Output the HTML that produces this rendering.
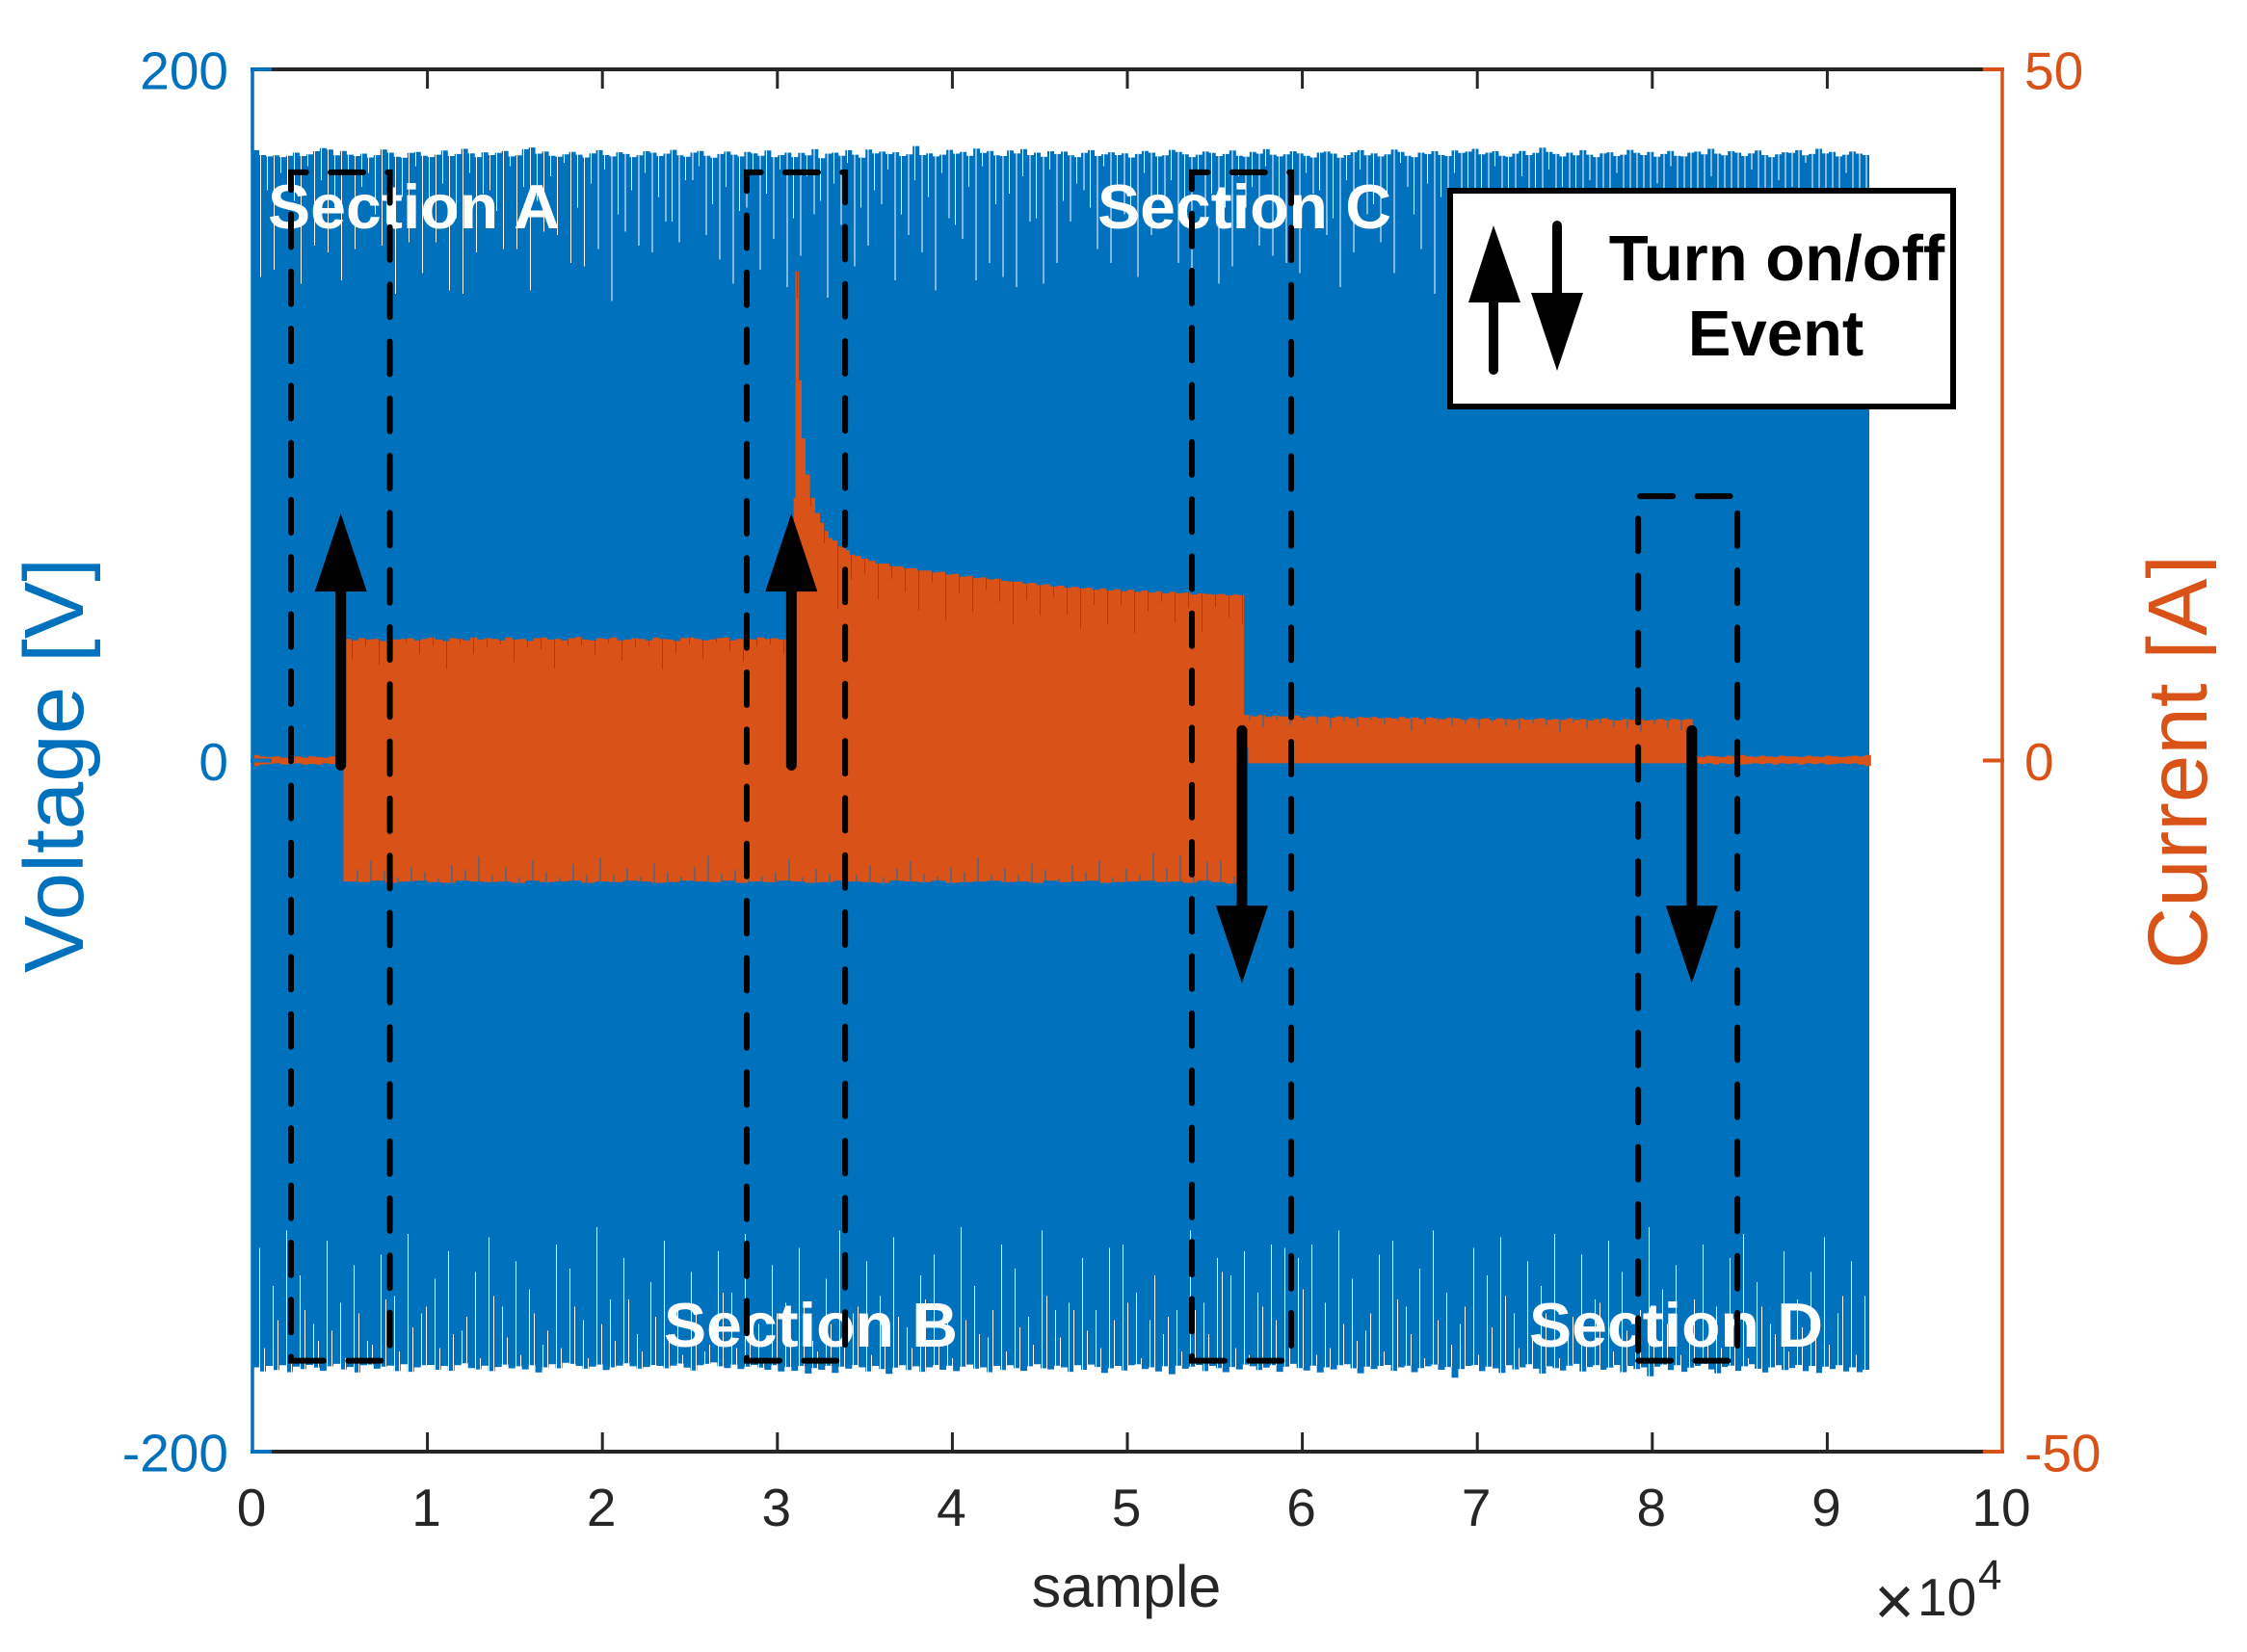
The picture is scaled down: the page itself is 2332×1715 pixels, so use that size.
<!DOCTYPE html>
<html lang="en">
<head>
<meta charset="utf-8">
<title>Voltage and current over samples</title>
<style>
html,body{margin:0;padding:0;background:#fff;}
svg{display:block;font-family:"Liberation Sans",Arial,sans-serif;}
</style>
</head>
<body>
<svg id="chart" width="2332" height="1715" viewBox="0 0 2332 1715">
  <rect x="0" y="0" width="2332" height="1715" fill="#ffffff"/>
  <g id="data-layer"></g>
  <g id="axes-layer"></g>
  <g id="section-labels" font-weight="bold" font-size="65" fill="#ffffff">
    <text x="278" y="237" textLength="303" lengthAdjust="spacingAndGlyphs">Section A</text>
    <text x="1139" y="237" textLength="305" lengthAdjust="spacingAndGlyphs">Section C</text>
    <text x="689" y="1398" textLength="305" lengthAdjust="spacingAndGlyphs">Section B</text>
    <text x="1587" y="1398" textLength="305" lengthAdjust="spacingAndGlyphs">Section D</text>
  </g>
  <g id="overlay-layer"></g>
  <g id="legend-box">
    <rect x="1505" y="198" width="522" height="224" fill="#ffffff" stroke="#000000" stroke-width="6"/>
    <line x1="1550" y1="300" x2="1550" y2="384" stroke="#000" stroke-width="10" stroke-linecap="round"/>
    <polygon points="1550,234 1578,314 1524,314" fill="#000"/>
    <line x1="1616" y1="234" x2="1616" y2="320" stroke="#000" stroke-width="10" stroke-linecap="round"/>
    <polygon points="1616,385 1589,304 1643,304" fill="#000"/>
    <text x="1844" y="291" text-anchor="middle" font-size="67" font-weight="bold" fill="#000">Turn on/off</text>
    <text x="1843" y="369" text-anchor="middle" font-size="67" font-weight="bold" fill="#000">Event</text>
  </g>
  <text transform="translate(86,1010) rotate(-90)" font-size="87" fill="#0072BD" textLength="431" lengthAdjust="spacingAndGlyphs">Voltage [V]</text>
  <text transform="translate(2290,1006) rotate(-90)" font-size="87" fill="#D95319" textLength="430" lengthAdjust="spacingAndGlyphs">Current [A]</text>
  <rect x="2300" y="0" width="32" height="1715" fill="#ffffff"/>
  <text x="1169" y="1668" text-anchor="middle" font-size="61" fill="#262626">sample</text>
  <g id="x-exponent" fill="#262626">
    <text x="1945" y="1687" font-size="72">×</text>
    <text x="1990" y="1677" font-size="55">10</text>
    <text x="2053" y="1650" font-size="44">4</text>
  </g>
</svg>
<script>
/* ---------- axis ranges and tick labels ---------- */
const xTickValues = [0,1,2,3,4,5,6,7,8,9,10];
const xTickMultiplier = 10000;
const voltageTickValues = [-200,0,200];
const currentTickValues = [-50,0,50];

/* ---------- voltage trace: envelope read per 385 samples (volts) ---------- */
const voltageSampleStep = 385;
const voltageUpper = [
176.6,175.2,174.8,175.1,174.6,175.0,175.9,174.9,175.4,176.3,177.2,176.8,175.1,176.4,175.3,174.9,175.6,174.5,175.2,176.8,
175.9,174.7,174.4,175.8,176.1,175.0,174.6,175.3,176.5,174.9,175.5,177.0,175.7,174.6,176.0,175.2,175.8,176.4,174.8,175.1,
176.9,177.4,175.6,176.2,175.0,174.7,175.4,176.1,175.3,174.5,175.7,176.6,175.2,174.8,176.0,175.5,174.6,175.1,176.3,175.9,
174.9,175.6,176.7,175.1,174.7,175.9,176.4,175.0,174.4,175.5,176.2,175.3,174.8,176.1,175.7,175.0,176.5,174.6,175.2,175.9,
174.6,175.8,175.1,176.9,174.3,175.6,175.9,175.0,176.6,175.3,174.4,176.8,175.7,176.2,175.5,176.0,174.9,175.4,177.8,175.2,
175.7,174.8,175.3,176.7,175.6,176.1,175.0,177.1,175.8,176.4,175.1,174.9,176.5,175.7,176.9,175.2,175.9,174.7,176.3,175.5,
176.2,175.1,174.6,175.8,176.6,174.9,175.4,176.0,175.2,175.7,174.5,175.5,176.4,175.9,174.8,175.1,176.7,176.1,175.4,174.6,
175.3,176.2,175.8,174.9,175.5,176.5,175.0,174.7,176.1,175.6,176.9,175.3,174.8,175.4,176.3,175.7,175.0,174.5,175.9,176.2,
175.6,174.4,175.2,176.0,176.6,175.1,175.7,174.8,175.4,176.8,176.1,175.0,174.6,175.9,175.5,176.3,175.2,174.9,176.5,175.8,
176.2,177.0,175.4,175.9,176.3,175.0,174.7,175.6,176.4,175.2,175.8,177.3,176.1,175.5,174.8,175.9,175.1,176.6,175.3,174.6,
175.7,176.0,174.9,175.3,176.7,175.8,175.2,176.1,174.7,175.5,176.4,175.0,174.8,175.9,176.2,175.4,177.0,175.6,175.1,176.3,
175.9,174.9,175.7,176.5,175.2,174.6,175.4,176.0,175.8,176.6,175.1,175.5,177.0,175.7,176.1,174.8,175.3,176.2,175.6,175.2
];
const voltageLower = [
-175.6,-176.8,-175.2,-176.4,-175.0,-177.0,-175.4,-176.1,-174.9,-175.7,-176.6,-175.3,-174.6,-176.2,-175.5,-177.1,-175.0,-174.8,-176.0,-175.4,
-175.1,-176.7,-174.7,-176.9,-175.6,-175.0,-174.9,-176.3,-175.2,-176.6,-175.0,-174.4,-175.8,-176.2,-175.1,-176.7,-175.5,-174.8,-175.9,-175.3,
-176.2,-175.0,-177.1,-175.6,-174.7,-175.9,-174.3,-174.6,-175.2,-176.0,-175.4,-174.8,-176.4,-175.6,-175.1,-174.4,-175.3,-176.0,-175.5,-174.9,
-175.2,-175.9,-175.1,-174.5,-175.7,-176.5,-175.0,-174.6,-174.2,-175.3,-175.8,-174.8,-176.1,-175.4,-174.9,-175.7,-176.3,-175.0,-176.8,-175.5,
-176.6,-175.2,-177.4,-175.8,-176.3,-175.1,-177.2,-175.4,-176.0,-174.9,-175.6,-176.8,-175.2,-176.1,-177.5,-175.7,-175.0,-176.4,-175.3,-176.9,
-175.6,-174.9,-176.3,-175.1,-176.7,-175.4,-174.8,-176.0,-175.6,-177.0,-175.2,-176.4,-175.0,-175.8,-176.6,-175.3,-174.7,-175.9,-176.2,-175.1,
-175.6,-176.9,-175.0,-176.3,-174.8,-175.5,-177.2,-175.9,-175.2,-176.5,-175.0,-174.7,-176.1,-175.6,-176.8,-175.3,-177.6,-175.1,-176.0,-175.4,
-174.9,-176.7,-175.2,-175.8,-177.0,-175.5,-176.2,-174.8,-175.3,-176.4,-175.7,-175.0,-176.9,-175.4,-174.6,-175.8,-176.5,-175.1,-177.1,-175.6,
-176.2,-175.0,-174.7,-175.9,-177.3,-175.4,-176.1,-175.2,-174.9,-176.6,-175.6,-175.1,-177.0,-175.8,-175.3,-174.8,-176.3,-175.5,-178.6,-176.1,
-175.2,-174.9,-176.7,-175.4,-175.9,-177.2,-175.0,-176.2,-175.6,-174.7,-176.0,-177.4,-175.3,-175.8,-176.5,-175.1,-174.6,-176.8,-175.5,-175.0,
-176.3,-175.7,-174.9,-177.0,-175.2,-176.1,-175.6,-178.2,-175.4,-174.8,-176.4,-175.0,-176.9,-175.7,-175.2,-174.6,-176.2,-177.3,-175.5,-175.1,
-176.6,-175.3,-174.7,-176.0,-177.1,-175.6,-175.0,-176.4,-175.8,-174.9,-176.7,-175.2,-177.2,-175.4,-176.1,-175.0,-176.8,-175.6,-177.0,-176.3
];
/* narrow gaps on the voltage trace, one per half-mains beat (volts reached by the gap) */
const voltageGapStep = 771;
const voltageTopGapsA = [
140,142,166,138,149,147,139,148,170,149,135,150,141,150,136,135,147,165,148,148,
136,153,152,144,143,148,133,153,149,147,156,150,168,152,145,138,160,142,151,137,
146,158,134,155,143,149,161,139,152,147,136,157,151,139,144,140,137,156,138,144,
156,165,148,144,158,140,152,163,144,135,155,138,143,160,149,146,144,141,164,152,
137,147,158,150,141,166,148,135,153,144,160,139,150,147,142,156,136,152,165,143,
148,138,154,146,161,140,151,144,136,158,149,142,163,147,139,155,145,150,141,153
];
const voltageTopGapsB = [
165,170,162,172,168,160,171,166,158,169,163,172,161,167,157,170,164,159,172,166,
162,169,173,160,167,171,158,165,170,163,156,168,172,161,166,159,170,164,171,157,
169,162,167,173,160,165,171,158,168,163,170,155,166,172,161,164,169,157,171,162,
167,160,172,165,158,170,163,168,156,171,164,160,169,166,172,159,162,170,165,157,
168,171,161,164,173,158,167,163,170,160,165,172,156,169,162,171,166,159,168,164,
170,161,157,167,172,163,160,169,165,158,171,162,168,166,173,159,164,170,161,167
];
const voltageBottomGapsA = [
-141,-152,-136,-149,-163,-139,-157,-146,-168,-143,-155,-137,-160,-150,-142,-165,-148,-138,-158,-145,
-153,-169,-140,-147,-162,-135,-156,-144,-166,-151,-139,-159,-148,-171,-142,-154,-137,-163,-146,-157,
-141,-168,-150,-136,-160,-145,-155,-138,-164,-149,-143,-158,-135,-152,-167,-140,-147,-161,-136,-159,
-157,-144,-159,-141,-140,-154,-162,-166,-159,-136,-157,-144,-149,-142,-154,-140,-141,-144,-140,-157,
-136,-150,-165,-143,-139,-158,-147,-136,-154,-163,-141,-149,-138,-160,-145,-152,-137,-167,-143,-156,
-139,-148,-161,-135,-153,-146,-165,-140,-158,-144,-137,-151,-163,-142,-156,-148,-138,-160,-145,-155
];
const voltageBottomGapsB = [
-170,-162,-172,-159,-168,-165,-173,-160,-169,-156,-171,-164,-158,-170,-166,-161,-173,-155,-167,-172,
-160,-165,-170,-158,-173,-163,-168,-156,-171,-161,-166,-172,-159,-169,-154,-170,-164,-173,-160,-167,
-157,-171,-163,-169,-158,-172,-165,-161,-170,-156,-168,-173,-162,-166,-159,-171,-164,-169,-155,-167,
-159,-165,-170,-162,-157,-173,-149,-161,-171,-159,-166,-148,-170,-172,-158,-162,-167,-153,-172,-170,
-163,-168,-160,-171,-156,-166,-173,-162,-169,-158,-172,-164,-155,-170,-167,-160,-173,-161,-168,-157,
-171,-165,-159,-169,-163,-172,-156,-167,-170,-161,-173,-158,-166,-171,-164,-160,-169,-155,-172,-165
];

/* ---------- current trace: read in stages (amps) ---------- */
const currentOffBefore = [0.4,0.3,0.25,0.3,0.2,0.25,0.3,0.2,0.3,0.25,0.2,0.3,0.25];
const currentOffBeforeLower = [-0.4,-0.3,-0.25,-0.2,-0.3,-0.25,-0.2,-0.3,-0.25,-0.3,-0.2,-0.25,-0.3];
const currentOffStep = 400;
const currentOnSampleStart = 5250;
const currentPlateauStep = 400;
const currentPlateauUpper = [
8.8,8.7,8.85,8.75,8.8,8.65,8.9,8.75,8.8,8.85,8.7,8.8,8.9,8.75,8.65,8.85,8.8,8.7,8.9,8.75,
8.85,8.8,8.7,8.9,8.75,8.8,8.65,8.85,8.9,8.75,8.8,8.7,8.85,8.95,8.75,8.7,8.85,8.8,8.9,8.7,
8.75,8.85,8.8,8.7,8.9,8.8,8.75,8.65,8.85,8.9,8.8,8.7,8.75,8.85,8.9,8.7,8.8,8.85,8.75,8.9,
8.8,8.85,8.75,8.8,8.85,8.7
];
const decaySamples = [30930,31030,31225,31390,31610,31860,32160,32435,32655,32930,33150,33430,33650,33920,34140,34420];
const decayAmps = [19.0,35.4,27.5,23.3,20.7,19.0,17.9,17.2,16.6,16.1,15.9,15.5,15.4,15.2,14.9,14.8];
const settlingSampleStart = 34800;
const settlingAmps = [
14.6,14.45,14.25,14.25,14.05,14.05,13.9,13.9,13.75,13.75,13.6,13.65,13.45,13.5,13.3,13.35,13.2,13.25,13.1,13.15,
13.0,12.95,12.95,12.8,12.85,12.7,12.75,12.6,12.65,12.5,12.55,12.45,12.5,12.35,12.45,12.3,12.4,12.25,12.35,12.2,
12.3,12.15,12.25,12.1,12.2,12.1,12.15,12.0,12.1,12.05,12.0,12.05,11.95,12.0,11.95
];
const currentLowSampleStart = 56670;
const currentLowUpper = [
3.3,3.2,3.3,3.15,3.25,3.2,3.15,3.25,3.1,3.2,3.15,3.2,3.1,3.2,3.15,3.05,3.15,3.1,3.15,3.05,
3.1,3.05,3.15,3.05,3.1,3.0,3.1,3.05,3.0,3.1,3.05,2.95,3.05,3.0,3.05,2.95,3.05,3.0,2.95,3.05,
2.95,3.0,3.05,2.95,3.0,2.95,3.05,2.95,3.0,2.9,3.0,3.05,2.95,2.9,3.0,2.95,3.0,2.9,2.95,3.0,
2.9,3.0,2.95,3.0,3.0
];
const currentLowLower = -0.2;
const currentOffAfterSampleStart = 82300;
const currentOffAfterSampleEnd = 92500;
const currentOffAfterUpper = [0.3,0.25,0.35,0.3,0.25,0.35,0.3,0.4,0.3,0.25,0.35,0.3,0.25,0.35,0.3,0.3,0.25,0.35,0.3,0.25,0.35,0.3,0.25,0.3,0.35,0.3,0.4];
const currentOffAfterLower = [-0.2,-0.25,-0.2,-0.3,-0.2,-0.25,-0.2,-0.3,-0.25,-0.2,-0.25,-0.2,-0.3,-0.2,-0.25,-0.2,-0.3,-0.2,-0.25,-0.2,-0.3,-0.25,-0.2,-0.25,-0.2,-0.3,-0.4];
const currentHighLowerStep = 800;
const currentHighLower = [
-8.75,-8.8,-8.7,-8.85,-8.75,-8.7,-8.8,-8.85,-8.7,-8.75,-8.8,-8.75,-8.85,-8.7,-8.8,-8.75,-8.7,-8.85,-8.75,-8.8,
-8.7,-8.75,-8.85,-8.8,-8.7,-8.75,-8.8,-8.7,-8.85,-8.75,-8.8,-8.7,-8.75,-8.85,-8.8,-8.7,-8.75,-8.8,-8.85,-8.7,
-8.75,-8.8,-8.7,-8.85,-8.8,-8.75,-8.7,-8.8,-8.75,-8.85,-8.7,-8.8,-8.75,-8.7,-8.85,-8.8,-8.75,-8.7,-8.8,-8.75,
-8.85,-8.7,-8.8,-8.9,-8.8
];
/* blue gaps eating into the current trace (amps of depth) */
const currentGapStep = 771;
const currentGapStart = 5700;
const currentTopGapDepth = [
1.4,0.5,1.9,0.8,0.3,1.0,0.6,2.0,0.4,1.2,0.7,0.3,1.6,0.5,0.9,2.1,0.4,0.6,1.1,0.3,
1.5,0.7,0.4,2.2,0.9,0.5,1.3,0.3,0.8,1.7,0.5,0.4,1.0,2.0,0.6,0.9,4.5,1.8,1.1,2.6,
0.9,1.7,2.9,0.7,3.3,1.4,2.6,0.9,1.7,3.1,1.2,2.2,0.8,1.9,2.9,1.1,2.4,1.0,3.0,1.5,
0.8,2.2,1.1,2.8,0.9,1.6,2.1
];
const currentBottomGapDepth = [
0.9,1.6,0.7,0.4,1.1,0.6,0.3,1.3,0.8,1.8,0.5,1.0,0.4,1.5,0.7,0.3,1.2,0.6,1.7,0.5,
0.9,0.4,1.4,0.7,0.3,1.1,1.9,0.5,0.8,1.3,0.4,0.7,1.6,0.3,1.0,0.6,1.8,0.5,1.2,0.4,
0.9,1.5,0.6,0.3,1.1,0.7,1.7,0.4,1.0,0.5,1.4,0.8,0.3,1.2,0.6,1.6,0.4,1.0,0.5,2.0,
1.0,1.9,0.7,1.4,1.6,0.5,1.1
];
const currentLowGapStart = 57000;
const currentLowGapDepth = [
0.4,0.9,0.3,0.6,0.2,0.5,0.8,0.3,0.7,0.2,0.5,0.3,0.9,0.4,0.2,0.6,0.3,0.7,0.2,0.5,
0.8,0.3,0.4,0.9,0.2,0.6,0.3,0.5,0.7,0.9,0.3,0.6,0.8
];

/* ---------- annotations ---------- */
const sectionNames = ['a','b','c','d'];
const sectionLeft = [2203,28250,53690,79190];
const sectionRight = [7853,33870,59360,84860];
const sectionTopVolts = [170.2,170.2,170.2,76.5];
const sectionBottomVolts = [-173.7,-173.7,-173.7,-173.7];
const eventNames = ['on-1','on-2','off-1','off-2'];
const eventSamples = [5050,30800,56550,82260];
const eventIsUp = [true,true,false,false];

/* ---------- axis functions ---------- */
const plotLeft = 262, plotRight = 2078, plotTop = 72, plotBottom = 1507;
const xMaxSamples = 100000;
function xScale(s){ return plotLeft + (plotRight-plotLeft)*s/xMaxSamples; }
function vScale(v){ return plotTop + (plotBottom-plotTop)*(200-v)/400; }
function iScale(a){ return plotTop + (plotBottom-plotTop)*(50-a)/100; }

const svg = document.getElementById('chart');
const dataLayer = document.getElementById('data-layer');
const axesLayer = document.getElementById('axes-layer');
const overlayLayer = document.getElementById('overlay-layer');
function make(parent, tag, attrs){
  const el = document.createElementNS(svg.namespaceURI, tag);
  for (const k in attrs) el.setAttribute(k, attrs[k]);
  parent.appendChild(el);
  return el;
}
const f = n => n.toFixed(1);

/* ---------- voltage ---------- */
function stairsForward(values, step, scale){
  let d = '';
  values.forEach((v,i)=>{
    d += (i===0 && !d ? 'M' : 'L') + f(xScale(i*step)) + ' ' + f(scale(v)) + 'L' + f(xScale((i+1)*step)) + ' ' + f(scale(v));
  });
  return d;
}
function stairsBackward(values, step, scale){
  let d = '';
  for (let i=values.length-1;i>=0;i--){
    d += 'L' + f(xScale((i+1)*step)) + ' ' + f(scale(values[i])) + 'L' + f(xScale(i*step)) + ' ' + f(scale(values[i]));
  }
  return d;
}
const voltagePath = make(dataLayer,'path',{
  d: stairsForward(voltageUpper,voltageSampleStep,vScale) + stairsBackward(voltageLower,voltageSampleStep,vScale) + 'Z',
  fill:'#0072BD'
});



function gapPath(gaps, offset, envelope){
  let d = '';
  gaps.forEach((v,k)=>{
    const s = offset + k*voltageGapStep;
    const idx = Math.min(envelope.length-1, Math.floor(s/voltageSampleStep));
    d += 'M' + f(xScale(s)) + ' ' + f(vScale(envelope[idx])) + 'V' + f(vScale(v));
  });
  return d;
}
const topGapsA = make(dataLayer,'path',{d:gapPath(voltageTopGapsA,480,voltageUpper),stroke:'#ffffff','stroke-width':1,fill:'none','shape-rendering':'crispEdges'});


const topGapsB = make(dataLayer,'path',{d:gapPath(voltageTopGapsB,860,voltageUpper),stroke:'#ffffff','stroke-width':1,fill:'none','shape-rendering':'crispEdges'});


const bottomGapsA = make(dataLayer,'path',{d:gapPath(voltageBottomGapsA,400,voltageLower),stroke:'#ffffff','stroke-width':1,fill:'none','shape-rendering':'crispEdges'});


const bottomGapsB = make(dataLayer,'path',{d:gapPath(voltageBottomGapsB,680,voltageLower),stroke:'#ffffff','stroke-width':1,fill:'none','shape-rendering':'crispEdges'});



/* ---------- current ---------- */
const upperPts = [], lowerPts = [];
currentOffBefore.forEach((a,i)=>upperPts.push([i*currentOffStep,a]));
currentOffBeforeLower.forEach((a,i)=>lowerPts.push([i*currentOffStep,a]));
currentPlateauUpper.forEach((a,i)=>{ const s=currentOnSampleStart+i*currentPlateauStep; if(s<decaySamples[0]) upperPts.push([s,a]); });
decayAmps.forEach((a,i)=>upperPts.push([decaySamples[i],a]));
settlingAmps.forEach((a,i)=>{ const s=settlingSampleStart+i*currentPlateauStep; if(s<currentLowSampleStart) upperPts.push([s,a]); });
currentLowUpper.forEach((a,i)=>{ const s=currentLowSampleStart+i*currentPlateauStep; if(s<currentOffAfterSampleStart) upperPts.push([s,a]); });
const offAfterStep = (currentOffAfterSampleEnd-currentOffAfterSampleStart)/currentOffAfterUpper.length;
currentOffAfterUpper.forEach((a,i)=>upperPts.push([currentOffAfterSampleStart+i*offAfterStep,a]));
currentHighLower.forEach((a,i)=>{ const s=currentOnSampleStart-50+i*currentHighLowerStep; if(s<currentLowSampleStart) lowerPts.push([s,a]); });
lowerPts.push([currentLowSampleStart,currentLowLower]);
currentOffAfterLower.forEach((a,i)=>lowerPts.push([currentOffAfterSampleStart+i*offAfterStep,a]));

let currentD = '';
upperPts.forEach((p,i)=>{
  const next = i+1<upperPts.length ? upperPts[i+1][0] : currentOffAfterSampleEnd;
  currentD += (i===0?'M':'L') + f(xScale(p[0])) + ' ' + f(iScale(p[1])) + 'L' + f(xScale(next)) + ' ' + f(iScale(p[1]));
});
for (let i=lowerPts.length-1;i>=0;i--){
  const next = i+1<lowerPts.length ? lowerPts[i+1][0] : currentOffAfterSampleEnd;
  currentD += 'L' + f(xScale(next)) + ' ' + f(iScale(lowerPts[i][1])) + 'L' + f(xScale(lowerPts[i][0])) + ' ' + f(iScale(lowerPts[i][1]));
}
const currentPath = make(dataLayer,'path',{d:currentD+'Z',fill:'#D95319'});



function ampAt(pts,s){
  let a = pts[0][1];
  for (const p of pts){ if (p[0]<=s) a = p[1]; else break; }
  return a;
}
let currentGapD = '';
currentTopGapDepth.forEach((depth,k)=>{
  const s = currentGapStart + k*currentGapStep;
  const a = ampAt(upperPts,s);
  currentGapD += 'M'+f(xScale(s))+' '+f(iScale(a)-1)+'V'+f(iScale(a-depth));
});
currentBottomGapDepth.forEach((depth,k)=>{
  const s = currentGapStart + 300 + k*currentGapStep;
  const a = ampAt(lowerPts,s);
  currentGapD += 'M'+f(xScale(s))+' '+f(iScale(a)+1)+'V'+f(iScale(a+depth));
});
currentLowGapDepth.forEach((depth,k)=>{
  const s = currentLowGapStart + k*currentGapStep;
  const a = ampAt(upperPts,s);
  currentGapD += 'M'+f(xScale(s))+' '+f(iScale(a)-1)+'V'+f(iScale(a-depth));
});
const currentGaps = make(dataLayer,'path',{d:currentGapD,stroke:'#0072BD','stroke-width':1,fill:'none','shape-rendering':'crispEdges'});



/* ---------- axes ---------- */
const topLine = make(axesLayer,'line',{x1:plotLeft,y1:plotTop,x2:plotRight,y2:plotTop,stroke:'#262626','stroke-width':4});


const bottomLine = make(axesLayer,'line',{x1:plotLeft,y1:plotBottom,x2:plotRight,y2:plotBottom,stroke:'#262626','stroke-width':4});


const leftLine = make(axesLayer,'line',{x1:plotLeft,y1:plotTop-2,x2:plotLeft,y2:plotBottom+2,stroke:'#0072BD','stroke-width':3.5});


const rightLine = make(axesLayer,'line',{x1:plotRight,y1:plotTop-2,x2:plotRight,y2:plotBottom+2,stroke:'#D95319','stroke-width':3.5});



xTickValues.forEach(t=>{
  const x = xScale(t*xTickMultiplier);
  if (t>0 && t<10){
    const a = make(axesLayer,'line',{x1:x,y1:plotTop+2,x2:x,y2:plotTop+20,stroke:'#262626','stroke-width':3});
    
    
    const b = make(axesLayer,'line',{x1:x,y1:plotBottom-2,x2:x,y2:plotBottom-20,stroke:'#262626','stroke-width':3});
    
    
  }
  const lab = make(axesLayer,'text',{x:x-1,y:1584,'text-anchor':'middle','font-size':55,fill:'#262626'});
  
  
  lab.textContent = t;
});
voltageTickValues.forEach(t=>{
  const y = vScale(t);
  const tick = make(axesLayer,'line',{x1:plotLeft-2,y1:y,x2:plotLeft+20,y2:y,stroke:'#0072BD','stroke-width':4});
  
  
  const lab = make(axesLayer,'text',{x:237,y:y+20.5,'text-anchor':'end','font-size':55,fill:'#0072BD'});
  
  
  lab.textContent = t;
});
currentTickValues.forEach(t=>{
  const y = iScale(t);
  const tick = make(axesLayer,'line',{x1:plotRight-20,y1:y,x2:plotRight+2,y2:y,stroke:'#D95319','stroke-width':4});
  
  
  const lab = make(axesLayer,'text',{x:2101,y:y+20.5,'font-size':55,fill:'#D95319'});
  
  
  lab.textContent = t;
});

/* ---------- section boxes ---------- */
sectionNames.forEach((name,i)=>{
  const L=f(xScale(sectionLeft[i])), R=f(xScale(sectionRight[i])), T=f(vScale(sectionTopVolts[i])), B=f(vScale(sectionBottomVolts[i]));
  const box = make(overlayLayer,'path',{d:'M'+L+' '+B+'H'+R+'V'+T+'H'+L+'Z',fill:'none',stroke:'#000000','stroke-width':6,'stroke-linecap':'round','stroke-dasharray':'34 25.3'});
  
  
});

/* ---------- event arrows ---------- */
eventNames.forEach((name,i)=>{
  const x = xScale(eventSamples[i]);
  const up = eventIsUp[i];
  const tail = up ? vScale(-2.9) : vScale(10.2);
  const base = up ? vScale(48.9) : vScale(-42);
  const tip  = up ? vScale(71.5) : vScale(-64.4);
  const shaft = make(overlayLayer,'line',{x1:x,y1:tail-(up?5.5:-5.5),x2:x,y2:base,stroke:'#000000','stroke-width':11,'stroke-linecap':'round'});
  
  
  const head = make(overlayLayer,'polygon',{points:f(x)+','+f(tip)+' '+f(x+27)+','+f(base)+' '+f(x-27)+','+f(base),fill:'#000000'});
  
  
});
</script>
</body>
</html>
